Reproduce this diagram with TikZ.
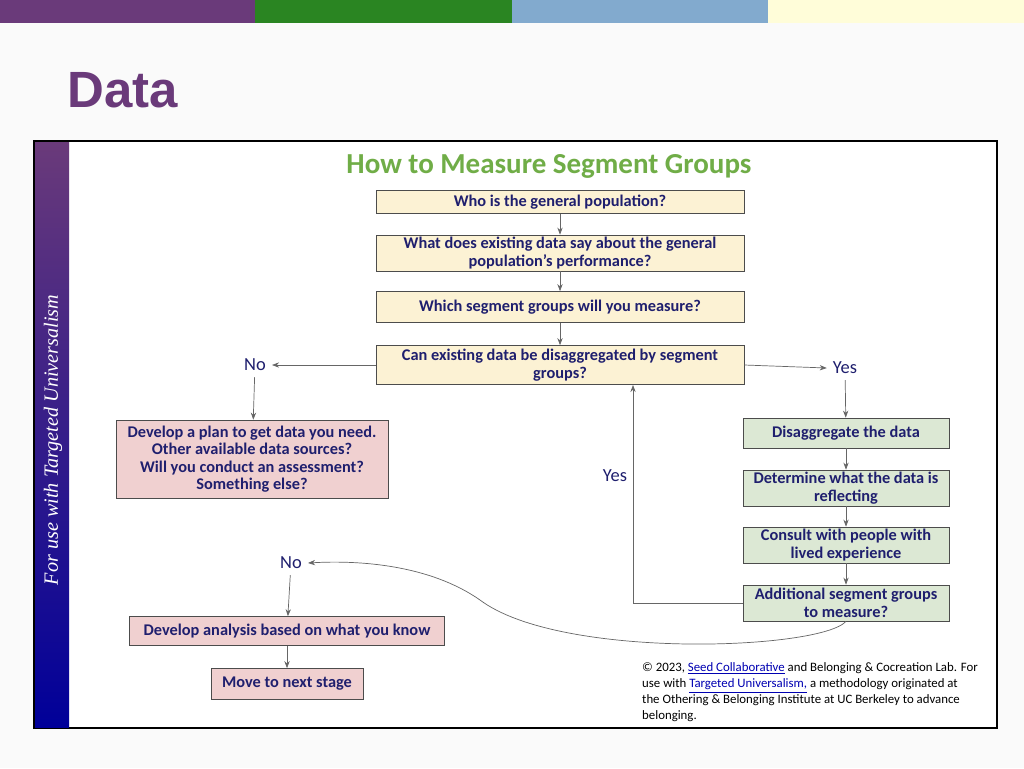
\documentclass[tikz,border=0pt]{standalone}
\usepackage{fontspec}
\setmainfont{Carlito}
\newfontfamily\heros{Liberation Sans}
\newfontfamily\serifit{Liberation Serif}
\usetikzlibrary{positioning,arrows.meta}
\definecolor{navy}{HTML}{1F1F6E}
\definecolor{boxyellow}{HTML}{FCF2D4}
\definecolor{boxpink}{HTML}{F0D0D0}
\definecolor{boxgreen}{HTML}{DCE8D4}
\definecolor{titlegreen}{HTML}{70AD47}
\definecolor{slidepurple}{HTML}{6A3A7A}
\definecolor{barblue}{HTML}{82AACE}
\definecolor{bargreen}{HTML}{2A8522}
\tikzset{
  step/.style={draw=black!70, fill=#1, text=navy, font=\fontsize{9.3}{10}\selectfont\bfseries,
    align=center, inner sep=0pt},
  word/.style={text=navy, font=\fontsize{10.5}{12}\selectfont},
  go/.style={-{Stealth[length=4pt]}, draw=black!60, thin}
}
\begin{document}
\begin{tikzpicture}[x=0.02cm, y=-0.02cm]
\fill[black!2] (0,0) rectangle (1024,768);
\useasboundingbox (0,0) rectangle (1024,768);
% colour bars
\fill[slidepurple] (0,0) rectangle (255,23);
\fill[bargreen] (255,0) rectangle (512,23);
\fill[barblue] (512,0) rectangle (768,23);
\fill[yellow!15] (768,0) rectangle (1024,23);
\node[text=slidepurple, font=\heros\fontsize{29}{30}\selectfont\bfseries] (head) at (123,90) {Data};
% frame and side band
\draw[fill=white, line width=1.2pt] (34,141) rectangle (997,728);
\shade[top color=slidepurple, bottom color=blue!60!black] (35,142) rectangle (69,727);
\node[rotate=90, text=white, font=\serifit\itshape\fontsize{11.5}{12}\selectfont] (band) at (53,440) {For use with Targeted Universalism};
\node[text=titlegreen, font=\fontsize{16.5}{18}\selectfont\bfseries] (title) at (549,166) {How to Measure Segment Groups};
% steps
\node[step=boxyellow, minimum width=368*0.02cm, minimum height=23*0.02cm] (who) at (560,202) {Who is the general population?};
\node[step=boxyellow, minimum width=368*0.02cm, minimum height=36*0.02cm] (what) at (560,253) {What does existing data say about the general\\population’s performance?};
\node[step=boxyellow, minimum width=368*0.02cm, minimum height=31*0.02cm] (which) at (560,307) {Which segment groups will you measure?};
\node[step=boxyellow, minimum width=368*0.02cm, minimum height=39*0.02cm] (can) at (560,365) {Can existing data be disaggregated by segment\\groups?};
\node[word] (no1) at (255,365) {No};
\node[word] (yes1) at (845,368) {Yes};
\node[step=boxpink, minimum width=272*0.02cm, minimum height=78*0.02cm] (plan) at (252,459) {Develop a plan to get data you need.\\Other available data sources?\\Will you conduct an assessment?\\Something else?};
\node[step=boxgreen, minimum width=206*0.02cm, minimum height=30*0.02cm] (split) at (846,433) {Disaggregate the data};
\node[step=boxgreen, minimum width=206*0.02cm, minimum height=36*0.02cm] (reflect) at (846,488) {Determine what the data is\\reflecting};
\node[step=boxgreen, minimum width=206*0.02cm, minimum height=36*0.02cm] (consult) at (846,545) {Consult with people with\\lived experience};
\node[step=boxgreen, minimum width=206*0.02cm, minimum height=36*0.02cm] (more) at (846,603) {Additional segment groups\\to measure?};
\node[word] (yes2) at (615,476) {Yes};
\node[word] (no2) at (291,563) {No};
\node[step=boxpink, minimum width=315*0.02cm, minimum height=29*0.02cm] (analysis) at (287,631) {Develop analysis based on what you know};
\node[step=boxpink, minimum width=152*0.02cm, minimum height=31*0.02cm] (next) at (287,684) {Move to next stage};
% connectors
\draw[go] (who) -- (what);
\draw[go] (what) -- (which);
\draw[go] (which) -- (can);
\draw[go] (can.west) -- (no1.east);
\draw[go] (no1) -- (plan);
\draw[go] (can.east) -- (yes1.west);
\draw[go] (yes1) -- (split);
\draw[go] (split) -- (reflect);
\draw[go] (reflect) -- (consult);
\draw[go] (consult) -- (more);
\draw[go] (more.west) -| (633,385);
\draw[go] (more.south) .. controls (820,650) and (560,660) .. (480,600) .. controls (430,565) and (360,560) .. (no2.east);
\draw[go] (no2) -- (analysis);
\draw[go] (analysis) -- (next);
% credit
\node[anchor=north west, align=left, font=\fontsize{7.3}{9.2}\selectfont] (credit) at (636,656)
  {© 2023, \textcolor{blue!70!black}{\underline{Seed Collaborative}} and Belonging \& Cocreation Lab. For\\use with \textcolor{blue!70!black}{\underline{Targeted Universalism,}} a methodology originated at\\the Othering \& Belonging Institute at UC Berkeley to advance\\belonging.};
\end{tikzpicture}
\end{document}
